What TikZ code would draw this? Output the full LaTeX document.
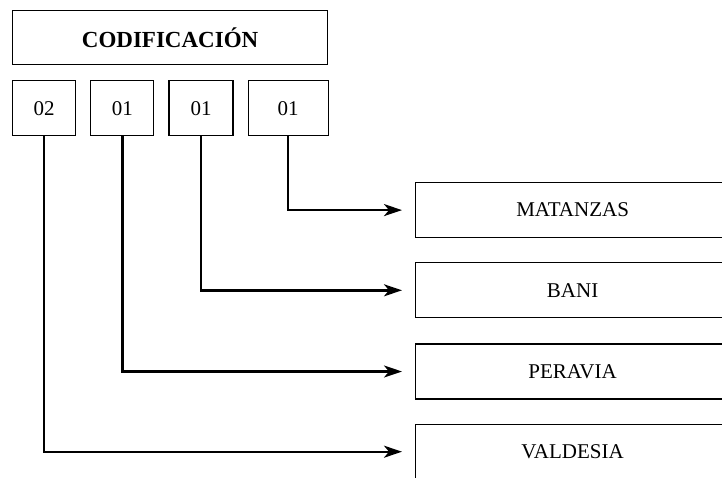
\documentclass[tikz,border=0pt]{standalone}
\usepackage{fontspec}
\setmainfont{Liberation Serif}
\usepackage{tikz}
\usetikzlibrary{arrows.meta,positioning}

\begin{document}
\begin{tikzpicture}[x=1pt,y=-1pt,->,>={Stealth[length=18pt,width=12pt,inset=5pt]},
  shorten >=13pt,line width=2.4pt,node distance=14pt,
  box/.style={draw,line width=1.2pt,inner sep=0pt,minimum height=55pt,
    font=\fontsize{21}{24}\selectfont},
  titlebox/.style={box,minimum width=315pt,minimum height=54pt,
    font=\fontsize{23}{26}\selectfont\bfseries},
  digitbox/.style={box,minimum width=63pt},
  destbox/.style={box,minimum width=314pt},
  elbow/.style={to path={|- (\tikztotarget)}}]

\path[use as bounding box,clip] (0,0) rectangle (722,477);

\node[titlebox,anchor=north west] (title) at (12,10) {CODIFICACIÓN};
\node[digitbox] (d1) [below right=15pt and 0pt of title.south west] {02};
\node[digitbox] (d2) [right=of d1] {01};
\node[digitbox,minimum width=64pt] (d3) [right=of d2] {01};
\node[digitbox,minimum width=80pt] (d4) [right=of d3] {01};

\node[destbox,anchor=north west] (matanzas) at (415,182) {MATANZAS};
\node[destbox] (bani) [below=24pt of matanzas] {BANI};
\node[destbox] (peravia) [below=25pt of bani] {PERAVIA};
\node[destbox] (valdesia) [below=24pt of peravia] {VALDESIA};

\path (d4.south) edge[elbow] (matanzas)
  (d3.south) edge[elbow] (bani)
  (d2.south) edge[elbow] (peravia)
  (d1.south) edge[elbow] (valdesia);

\end{tikzpicture}
\end{document}
